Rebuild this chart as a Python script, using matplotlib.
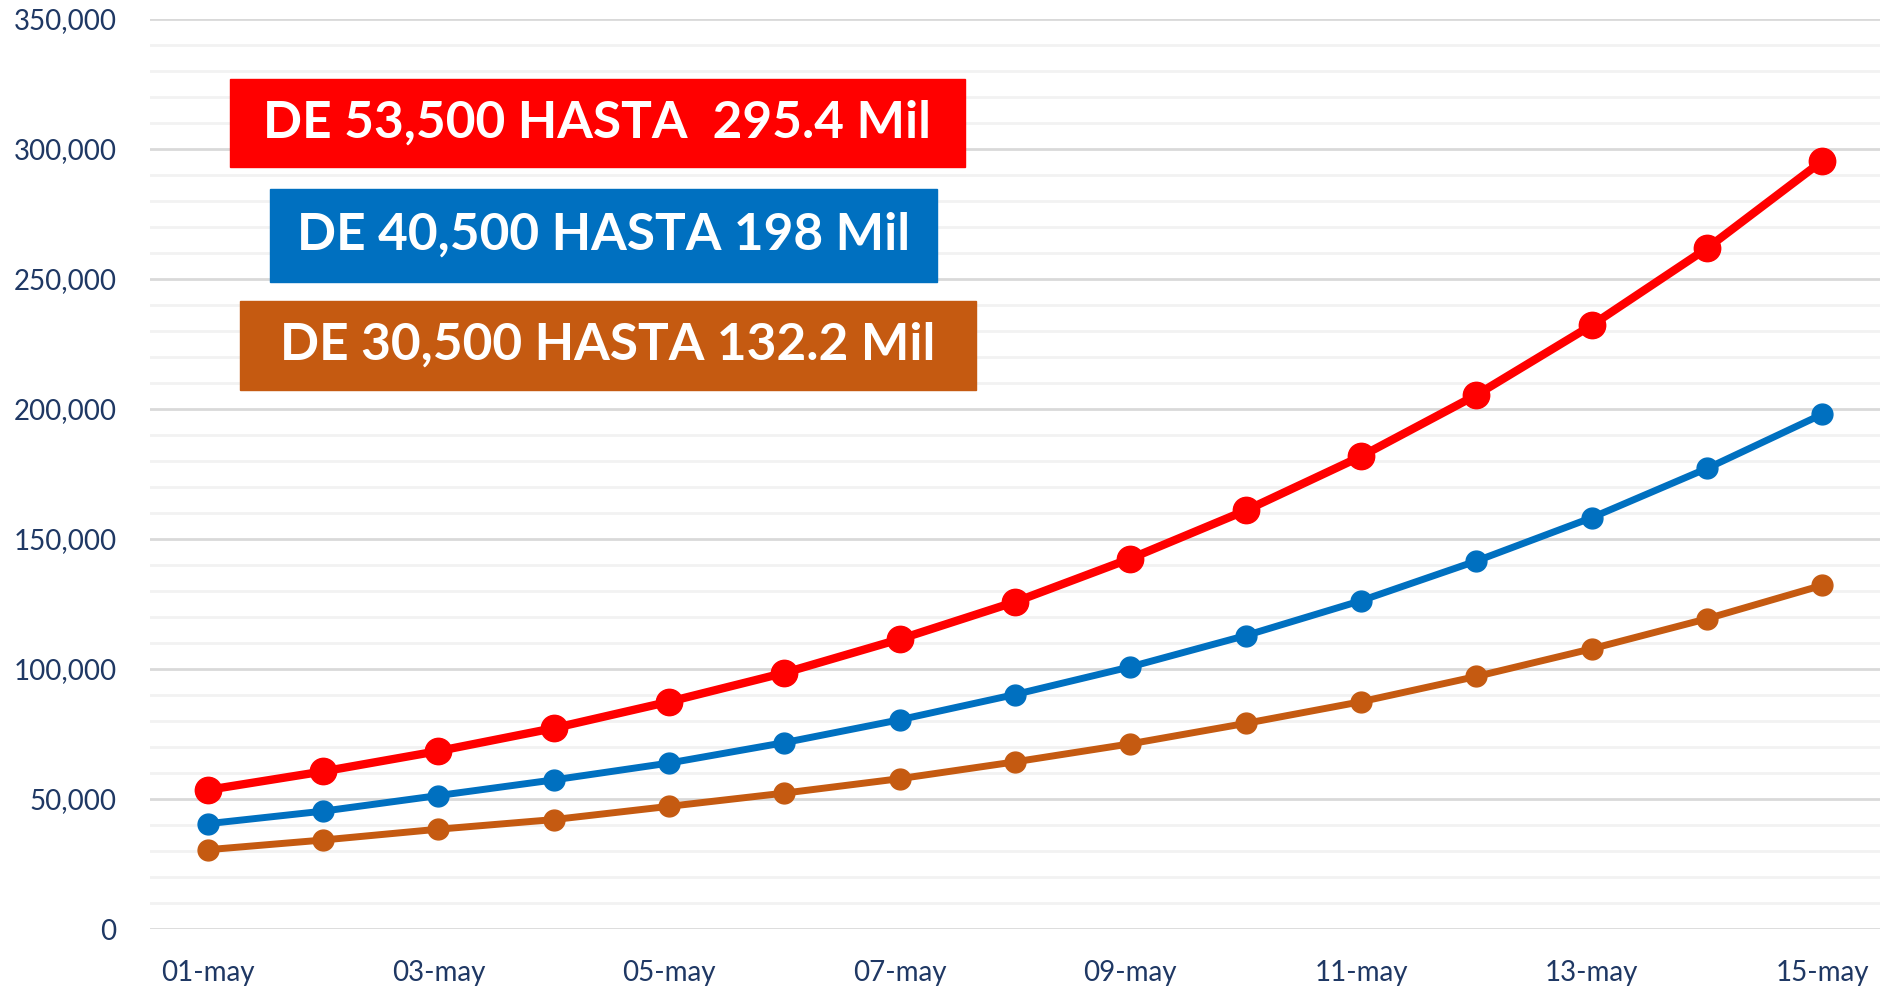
import matplotlib.pyplot as plt
from matplotlib.ticker import MultipleLocator, FuncFormatter

dias = ["01-may", "02-may", "03-may", "04-may", "05-may", "06-may", "07-may", "08-may",
        "09-may", "10-may", "11-may", "12-may", "13-may", "14-may", "15-may"]
rojo = [53500, 60600, 68450, 77240, 87420, 98520, 111470, 125800,
        142460, 160960, 181780, 205370, 232200, 261800, 295400]
azul = [40500, 45330, 51340, 57350, 63830, 71690, 80480, 90190,
        100830, 112860, 126270, 141540, 158190, 177150, 198000]
naranja = [30500, 34230, 38390, 42090, 47180, 52270, 57820, 64290,
           71230, 79090, 87420, 97130, 107770, 119330, 132200]
etiquetas = ["DE 53,500 HASTA  295.4 Mil", "DE 40,500 HASTA 198 Mil", "DE 30,500 HASTA 132.2 Mil"]

c_rojo, c_azul, c_naranja = "#FF0000", "#0070C0", "#C55A11"
navy = "#1F3864"
plt.rcParams['font.family'] = ['Lato', 'DejaVu Sans']

fig = plt.figure(figsize=(18.83, 9.88), dpi=100)
ax = fig.add_axes([0.0797, 0.0597, 0.9187, 0.9211])

x = list(range(len(dias)))
ax.plot(x, naranja, color=c_naranja, lw=5, marker="o", ms=15, zorder=3)
ax.plot(x, azul, color=c_azul, lw=5, marker="o", ms=15, zorder=4)
ax.plot(x, rojo, color=c_rojo, lw=6, marker="o", ms=19, zorder=5)

ax.set_xlim(-0.5, 14.5)
ax.set_ylim(0, 350000)
ax.yaxis.set_major_locator(MultipleLocator(50000))
ax.yaxis.set_minor_locator(MultipleLocator(10000))
ax.yaxis.set_major_formatter(FuncFormatter(lambda v, p: f"{int(v):,}"))
ax.set_xticks(x[::2])
ax.set_xticklabels(dias[::2])
ax.grid(axis="y", which="major", color="#D9D9D9", lw=2, zorder=0)
ax.grid(axis="y", which="minor", color="#F2F2F2", lw=2, zorder=0)
ax.set_axisbelow(True)
for s in ax.spines.values():
    s.set_visible(False)
ax.tick_params(axis="both", which="both", length=0, labelsize=20, colors=navy)
ax.tick_params(axis="y", pad=24)
ax.tick_params(axis="x", pad=22)

cajas = [(230, 79, 965, 167, c_rojo), (270, 189, 937, 282, c_azul), (240, 301, 976, 390, c_naranja)]
for (x0, y0, x1, y1, col), txt in zip(cajas, etiquetas):
    fig.patches.append(plt.Rectangle((x0 / 1883, 1 - y1 / 988), (x1 - x0) / 1883, (y1 - y0) / 988,
                                     transform=fig.transFigure, color=col, zorder=6))
    fig.text((x0 + x1) / 2 / 1883, 1 - (y0 + y1) / 2 / 988, txt, color="white", fontsize=37,
             fontweight="bold", ha="center", va="center", zorder=7)

fig.savefig("out.png", dpi=100)
